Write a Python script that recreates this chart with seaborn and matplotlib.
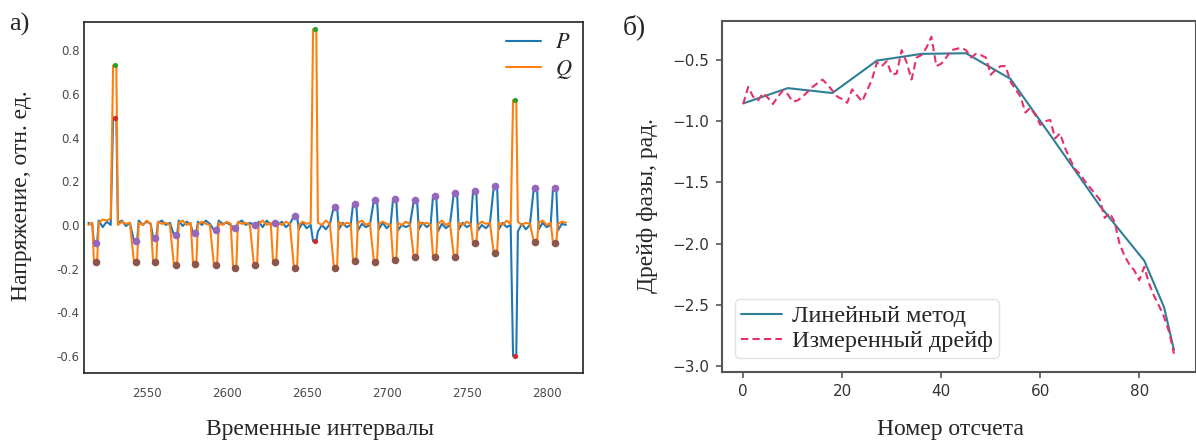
import matplotlib
matplotlib.use("Agg")
import matplotlib.pyplot as plt
from matplotlib.ticker import FuncFormatter
import seaborn as sns
import pandas as pd

# ---------------- panel (а): P / Q signals ----------------
# centres of the pulses (time intervals)
pulse_t = [2518, 2530, 2543, 2555, 2568, 2580, 2593, 2605, 2618, 2630, 2643, 2655,
           2668, 2680, 2693, 2705, 2718, 2730, 2743, 2755, 2768, 2780, 2793, 2805]
# pulse extreme values
p_peak = [-0.084, 0.49, -0.073, -0.058, -0.046, -0.038, -0.023, -0.012, 0.0, 0.01, 0.04, -0.075,
          0.084, 0.096, 0.114, 0.119, 0.114, 0.133, 0.148, 0.157, 0.18, -0.60, 0.171, 0.171]
q_peak = [-0.168, 0.73, -0.168, -0.168, -0.183, -0.18, -0.183, -0.198, -0.183, -0.168, -0.195, 0.896,
          -0.195, -0.165, -0.168, -0.16, -0.148, -0.145, -0.145, -0.084, -0.13, 0.572, -0.076, -0.084]
# spike pulses (marked separately)
spike_idx = [1, 11, 21]

# signal between pulses
lead_p = [0.01, 0.0]
lead_q = [0.0, 0.01]
p_gap = [
    [0.02, -0.01, 0.015, 0.0], [0.01, 0.02, -0.005, 0.01], [0.02, 0.0, 0.015, 0.005],
    [0.01, 0.02, 0.0, 0.01], [0.02, -0.005, 0.015, 0.0], [0.015, 0.0, 0.02, 0.005],
    [0.02, 0.005, 0.01, 0.0], [0.01, 0.02, 0.0, 0.01], [0.015, -0.01, 0.02, 0.0],
    [0.0, 0.015, -0.01, 0.005], [-0.02, 0.01, -0.015, 0.0], [-0.03, 0.0, -0.02, 0.005],
    [-0.02, 0.01, -0.01, 0.0], [-0.025, 0.005, -0.01, 0.0], [-0.02, 0.01, -0.015, 0.005],
    [-0.025, 0.0, -0.01, 0.0], [-0.02, 0.01, -0.01, 0.005], [-0.03, 0.005, -0.015, 0.0],
    [-0.02, 0.01, -0.01, 0.0], [-0.025, 0.0, -0.015, 0.005], [-0.02, 0.01, -0.01, 0.0],
    [-0.03, 0.005, -0.02, 0.0], [-0.02, 0.01, -0.01, 0.0], [-0.025, 0.005, 0.0],
]
q_gap = [
    [0.01, 0.025, 0.02, 0.03], [0.0, 0.015, 0.005, 0.01], [0.01, 0.0, 0.02, 0.005],
    [0.015, 0.005, 0.01, 0.0], [0.01, 0.02, 0.0, 0.01], [0.005, 0.015, 0.005, 0.0],
    [0.01, 0.0, 0.015, 0.005], [0.015, 0.005, 0.01, 0.0], [0.005, 0.02, 0.0, 0.01],
    [0.01, 0.0, 0.015, 0.005], [0.0, 0.015, 0.005, 0.01], [0.01, 0.0, 0.02, 0.005],
    [0.015, 0.0, 0.01, 0.005], [0.01, 0.02, 0.0, 0.01], [0.005, 0.015, 0.005, 0.0],
    [0.01, 0.0, 0.015, 0.005], [0.015, 0.005, 0.01, 0.0], [0.005, 0.02, 0.0, 0.01],
    [0.01, 0.0, 0.015, 0.005], [0.0, 0.015, 0.005, 0.01], [0.01, 0.0, 0.02, 0.005],
    [0.015, 0.0, 0.01, 0.005], [0.01, 0.02, 0.0, 0.01], [0.005, 0.015, 0.01],
]

# ---------------- panel (б): phase drift ----------------
lin_x = [0, 9, 18, 27, 36, 45, 54, 63, 72, 81, 85, 87]
lin_y = [-0.855, -0.73, -0.77, -0.505, -0.45, -0.445, -0.655, -1.17, -1.69, -2.14, -2.52, -2.87]
meas_y = [-0.86, -0.72, -0.80, -0.83, -0.77, -0.81, -0.86, -0.80, -0.75, -0.78,
          -0.84, -0.83, -0.80, -0.76, -0.72, -0.69, -0.66, -0.70, -0.75, -0.80,
          -0.82, -0.85, -0.74, -0.79, -0.84, -0.75, -0.66, -0.52, -0.55, -0.51,
          -0.62, -0.61, -0.42, -0.52, -0.66, -0.48, -0.46, -0.40, -0.31, -0.55,
          -0.53, -0.48, -0.42, -0.41, -0.40, -0.42, -0.48, -0.45, -0.46, -0.48,
          -0.62, -0.58, -0.55, -0.55, -0.68, -0.74, -0.80, -0.93, -0.89, -0.95,
          -1.03, -1.00, -0.99, -1.14, -1.10, -1.22, -1.31, -1.39, -1.43, -1.49,
          -1.54, -1.59, -1.64, -1.79, -1.75, -1.82, -2.00, -2.10, -2.17, -2.22,
          -2.30, -2.19, -2.33, -2.43, -2.51, -2.60, -2.72, -2.90]
meas_x = list(range(len(meas_y)))

# ---------------- assemble the signal table ----------------
LEAD_OFFS = [-4.5, -2]
GAP_OFFS = [2, 4.5, 7, 9.5]
t, p, q = [], [], []
t += [pulse_t[0] + o for o in LEAD_OFFS]
p += lead_p
q += lead_q
for k, c in enumerate(pulse_t):
    t += [c - 1, c, c + 1]
    p += [p_peak[k]] * 3
    q += [q_peak[k]] * 3
    n = len(p_gap[k])
    t += [c + o for o in GAP_OFFS[:n]]
    p += p_gap[k]
    q += q_gap[k]
sig = pd.DataFrame({"t": t, "P": p, "Q": q})

regular = [k for k in range(len(pulse_t)) if k not in spike_idx]
marks_reg = pd.DataFrame({"t": [pulse_t[k] for k in regular],
                          "P": [p_peak[k] for k in regular],
                          "Q": [q_peak[k] for k in regular]})
marks_spk = pd.DataFrame({"t": [pulse_t[k] for k in spike_idx],
                          "P": [p_peak[k] for k in spike_idx],
                          "Q": [q_peak[k] for k in spike_idx]})

drift = pd.DataFrame({"x": meas_x, "y": meas_y})
lin = pd.DataFrame({"x": lin_x, "y": lin_y})

# ---------------- styling ----------------
sns.set_style("white")
plt.rcParams["font.family"] = ["Liberation Serif", "DejaVu Serif"]
plt.rcParams["mathtext.fontset"] = "stix"

W, H = 1196, 441
fig = plt.figure(figsize=(W / 100, H / 100), dpi=100)

def box(l, t_, r, b):
    return [l / W, 1 - b / H, (r - l) / W, (b - t_) / H]

ax1 = fig.add_axes(box(84, 21.7, 583.3, 372.7))
ax2 = fig.add_axes(box(721.7, 20.7, 1195.5, 371.7))

C = sns.color_palette("tab10")

sns.lineplot(data=sig, x="t", y="P", ax=ax1, color=C[0], lw=1.5, label="$P$",
             estimator=None, sort=False)
sns.lineplot(data=sig, x="t", y="Q", ax=ax1, color=C[1], lw=1.5, label="$Q$",
             estimator=None, sort=False)
sns.scatterplot(data=marks_spk, x="t", y="Q", ax=ax1, color=C[2], s=14, linewidth=0, zorder=5)
sns.scatterplot(data=marks_spk, x="t", y="P", ax=ax1, color=C[3], s=14, linewidth=0, zorder=5)
sns.scatterplot(data=marks_reg, x="t", y="P", ax=ax1, color=C[4], s=30, linewidth=0, zorder=5)
sns.scatterplot(data=marks_reg, x="t", y="Q", ax=ax1, color=C[5], s=30, linewidth=0, zorder=5)

ax1.set_xlim(2510.8, 2822.9)
ax1.set_ylim(-0.676, 0.93)
ax1.set_xticks([2550, 2600, 2650, 2700, 2750, 2800])
ax1.set_yticks([-0.6, -0.4, -0.2, 0.0, 0.2, 0.4, 0.6, 0.8])
ax1.yaxis.set_major_formatter(FuncFormatter(lambda v, _: f"{v:.1f}"))
ax1.xaxis.set_major_formatter(FuncFormatter(lambda v, _: f"{v:.0f}"))
ax1.tick_params(axis="both", length=0, labelsize=8.5, labelcolor="#4a4a4a")
ax1.tick_params(axis="x", pad=10)
ax1.tick_params(axis="y", pad=3)
for lab in ax1.get_xticklabels() + ax1.get_yticklabels():
    lab.set_family("DejaVu Sans")
for s in ax1.spines.values():
    s.set_color("#222222")
    s.set_linewidth(1.2)
ax1.set_xlabel("")
ax1.set_ylabel("")
ax1.legend(loc="upper right", frameon=False, fontsize=16, handlelength=1.6,
           labelspacing=0.2, borderaxespad=0.1, handletextpad=0.6)

sns.lineplot(data=lin, x="x", y="y", ax=ax2, color="#2f7f96", lw=1.5,
             label="Линейный метод", estimator=None, sort=False)
sns.lineplot(data=drift, x="x", y="y", ax=ax2, color="#e5306b", lw=1.5,
             dashes=False, label="Измеренный дрейф", estimator=None, sort=False)
ax2.lines[1].set_linestyle((0, (3.5, 2)))
ax2.set_xlim(-4.35, 91.35)
ax2.set_ylim(-3.047, -0.179)
ax2.set_xticks([0, 20, 40, 60, 80])
ax2.set_yticks([-3.0, -2.5, -2.0, -1.5, -1.0, -0.5])
ax2.yaxis.set_major_formatter(FuncFormatter(lambda v, _: f"{v:.1f}".replace("-", "\u2212")))
ax2.tick_params(axis="both", direction="out", length=4, width=1.2, color="#555555",
                labelsize=11, labelcolor="#333333", pad=5)
ax2.tick_params(axis="x", bottom=True)
ax2.tick_params(axis="y", left=True)
for lab in ax2.get_xticklabels() + ax2.get_yticklabels():
    lab.set_family("DejaVu Sans")
for s in ax2.spines.values():
    s.set_color("#555555")
    s.set_linewidth(1.5)
ax2.set_xlabel("")
ax2.set_ylabel("")
leg = ax2.legend(loc="lower left", fontsize=17.5, handlelength=1.7, labelspacing=0.12,
                 borderpad=0.25, handletextpad=0.4, borderaxespad=0.55, frameon=True)
leg.get_lines()[1].set_linestyle((0, (3.5, 2)))
leg.get_frame().set_edgecolor("#dddddd")
leg.get_frame().set_alpha(0.85)

# axis titles and panel letters
fig.text(22 / W, 1 - 196 / H, "Напряжение, отн. ед.", rotation=90, fontsize=17,
         ha="center", va="center")
fig.text(320 / W, 1 - 430 / H, "Временные интервалы", fontsize=17, ha="center", va="center")
fig.text(647 / W, 1 - 206 / H, "Дрейф фазы, рад.", rotation=90, fontsize=17,
         ha="center", va="center")
fig.text(950 / W, 1 - 430 / H, "Номер отсчета", fontsize=17, ha="center", va="center")
fig.text(9 / W, 1 - 24 / H, "а)", fontsize=19, ha="left", va="center")
fig.text(623 / W, 1 - 27 / H, "б)", fontsize=20, ha="left", va="center")

fig.savefig("out.png", dpi=100)
